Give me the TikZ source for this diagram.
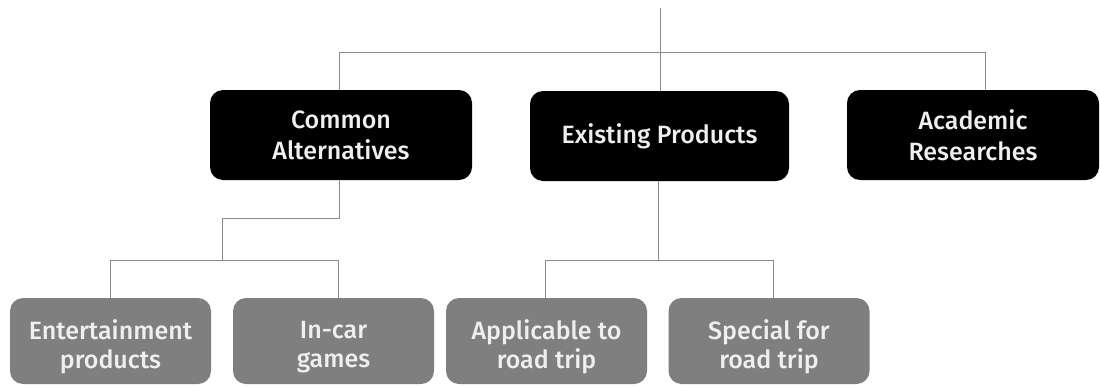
\documentclass[tikz,border=0pt]{standalone}
\usepackage{fontspec}
\setmainfont{Fira Sans}[UprightFont={* Medium}]
\begin{document}
\begin{tikzpicture}[x=1pt,y=-1pt,
  link/.style={draw=linegray,line width=1pt},
  topbox/.style={fill=black,rounded corners=13pt,minimum height=90pt,inner sep=0pt,
    text=boxtext,align=center,font=\fontsize{25}{31}\selectfont},
  subbox/.style={fill=subgray,rounded corners=13pt,minimum height=86pt,minimum width=201pt,inner sep=0pt},
  sublabel/.style={text=boxtext,align=center,inner sep=0pt,font=\fontsize{25}{29.5}\selectfont}]
\definecolor{linegray}{HTML}{8A8A8A}
\definecolor{subgray}{HTML}{7F7F7F}
\definecolor{boxtext}{HTML}{EFEFEF}
\useasboundingbox (0,0) rectangle (1100,386);

% first level
\node[topbox,minimum width=262pt] (alt) at (341,135) {Common\\Alternatives};
\node[topbox,minimum width=259pt] (exist) at (659.5,136) {\vphantom{Ap}Existing Products\vphantom{Ap}};
\node[topbox,minimum width=252pt] (acad) at (973,135) {Academic\\Researches};

% second level
\node[subbox] (ent) at (110.5,341) {};
\node[subbox] (incar) at (333.5,341) {};
\node[subbox] (appl) at (546.5,341) {};
\node[subbox] (spec) at (769,341) {};
\node[sublabel] (entT) at (110.5,347) {Entertainment\\products};
\node[sublabel] (incarT) at (333.5,347) {In-car\\games};
\node[sublabel] (applT) at (546.5,347) {Applicable to\\road trip};
\node[sublabel] (specT) at (769,347) {Special for\\road trip};

% junction points
\coordinate (root) at (660,8);
\coordinate (hubL) at (339,52);
\coordinate (hubR) at (985,52);
\coordinate (altA) at (339,218);
\coordinate (altB) at (222,218);
\coordinate (altC) at (222,260);
\coordinate (leftL) at (110,260);
\coordinate (leftR) at (338,260);
\coordinate (exA) at (658,260);
\coordinate (rightL) at (545,260);
\coordinate (rightR) at (773,260);

% top tree
\draw[link] (root) -- (exist.north -| root);
\draw[link] (hubL |- alt.north) -- (hubL) -- (hubR) -- (hubR |- acad.north);

% under Common Alternatives
\draw[link] (alt.south -| altA) -- (altA) -- (altB) -- (altC);
\draw[link] (ent.north -| leftL) -- (leftL) -- (leftR) -- (incar.north -| leftR);

% under Existing Products
\draw[link] (exist.south -| exA) -- (exA);
\draw[link] (appl.north -| rightL) -- (rightL) -- (rightR) -- (spec.north -| rightR);
\end{tikzpicture}
\end{document}
